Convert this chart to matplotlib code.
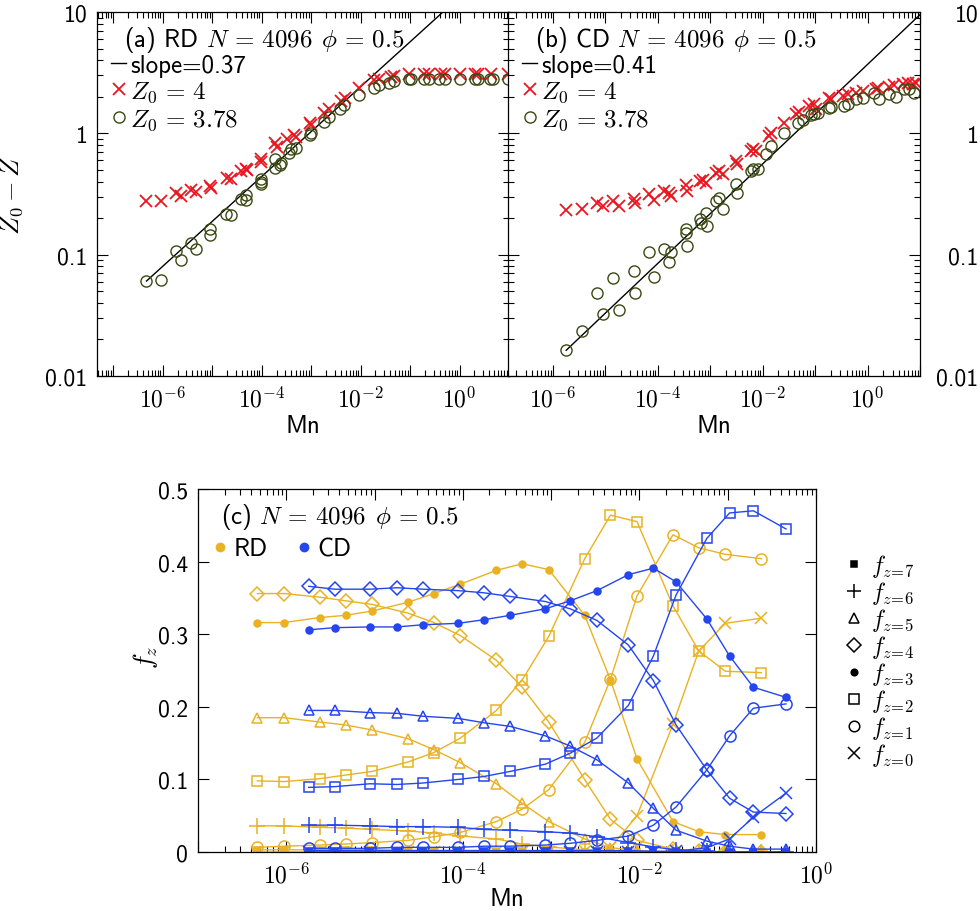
import numpy as np
import matplotlib
matplotlib.use('Agg')
import matplotlib.pyplot as plt
from matplotlib.lines import Line2D
from matplotlib.ticker import FixedLocator, LogLocator, FuncFormatter, NullFormatter

plt.rcParams['font.family'] = ['cmss10', 'DejaVu Sans']
plt.rcParams['mathtext.fontset'] = 'cm'
plt.rcParams['axes.unicode_minus'] = False
plt.rcParams['axes.formatter.use_mathtext'] = True

# ---------------- data: panel (a) RD ----------------
a_x4 = [4.7e-7, 9.4e-7, 1.86e-6, 2.39e-6, 3.75e-6, 4.81e-6, 9.25e-6, 9.55e-6, 1.95e-5, 2.36e-5,
        3.75e-5, 4.74e-5, 5.12e-5, 9.55e-5, 9.84e-5, 1.84e-4, 2.08e-4, 3.31e-4, 4.52e-4, 4.89e-4,
        9.55e-4, 9.84e-4, 1.84e-3, 2.32e-3, 3.99e-3, 4.81e-3, 9.4e-3, 1.89e-2, 2.39e-2, 4.12e-2,
        4.81e-2, 0.0968, 0.195, 0.247, 0.425, 0.497, 1.0, 2.01, 2.35, 4.39, 9.55]
a_y4 = [0.277, 0.277, 0.324, 0.305, 0.341, 0.328, 0.368, 0.357, 0.431, 0.418,
        0.490, 0.511, 0.499, 0.611, 0.584, 0.827, 0.777, 0.893, 0.963, 0.939,
        1.224, 1.178, 1.48, 1.58, 1.85, 1.97, 2.38, 2.73, 2.79, 2.93,
        2.97, 3.06, 3.06, 3.06, 3.06, 3.06, 3.06, 3.06, 3.06, 3.06, 3.06]
a_x378 = [4.7e-7, 9.4e-7, 1.86e-6, 2.39e-6, 3.75e-6, 4.81e-6, 9.25e-6, 9.25e-6, 1.89e-5, 2.36e-5,
          3.75e-5, 4.74e-5, 4.89e-5, 9.55e-5, 9.84e-5, 9.55e-5, 1.84e-4, 1.84e-4, 2.44e-4, 2.36e-4,
          3.6e-4, 3.88e-4, 4.89e-4, 9.84e-4, 9.55e-4, 1.84e-3, 2.32e-3, 3.88e-3, 4.67e-3, 9.4e-3,
          1.89e-2, 2.39e-2, 3.81e-2, 4.81e-2, 0.0968, 0.105, 0.195, 0.247, 0.393, 0.497,
          1.0, 2.01, 2.35, 4.06, 4.74, 9.55]
a_y378 = [0.0607, 0.0618, 0.107, 0.0904, 0.124, 0.112, 0.162, 0.146, 0.215, 0.212,
          0.286, 0.308, 0.280, 0.418, 0.397, 0.380, 0.611, 0.521, 0.573, 0.545,
          0.693, 0.738, 0.762, 1.0, 0.963, 1.25, 1.37, 1.58, 1.70, 2.06,
          2.38, 2.49, 2.62, 2.70, 2.79, 2.79, 2.79, 2.79, 2.79, 2.79,
          2.79, 2.79, 2.79, 2.79, 2.79, 2.79]
a_slope, a_amp = 0.37, 13.3
a_line_x = [4.7e-7, 10.0]

# ---------------- data: panel (b) CD ----------------
b_x4 = [1.79e-6, 3.62e-6, 6.89e-6, 8.95e-6, 1.39e-5, 1.78e-5, 3.44e-5, 3.6e-5, 6.93e-5, 8.64e-5,
        1.34e-4, 1.67e-4, 1.79e-4, 3.47e-4, 3.57e-4, 6.4e-4, 7.19e-4, 8.33e-4, 1.29e-3, 1.5e-3,
        1.73e-3, 3.1e-3, 3.2e-3, 6.0e-3, 6.45e-3, 7.47e-3, 1.34e-2, 1.44e-2, 2.59e-2, 4.32e-2,
        4.99e-2, 7.74e-2, 9.64e-2, 0.104, 0.186, 0.2, 0.334, 0.416, 0.6, 0.803,
        1.44, 1.55, 2.59, 3.22, 4.64, 5.78, 7.2, 8.33]
b_y4 = [0.233, 0.239, 0.265, 0.252, 0.277, 0.252, 0.286, 0.268, 0.314, 0.282,
        0.335, 0.324, 0.305, 0.373, 0.335, 0.405, 0.412, 0.392, 0.474, 0.490,
        0.459, 0.592, 0.555, 0.715, 0.738, 0.715, 0.951, 1.01, 1.21, 1.43,
        1.50, 1.68, 1.73, 1.58, 1.97, 1.91, 2.03, 2.10, 2.16, 2.23,
        2.31, 2.38, 2.42, 2.49, 2.54, 2.58, 2.54, 2.62]
b_x378 = [1.79e-6, 3.62e-6, 6.89e-6, 8.95e-6, 1.39e-5, 1.78e-5, 3.44e-5, 3.6e-5, 6.93e-5, 8.64e-5,
          1.34e-4, 1.67e-4, 1.79e-4, 3.47e-4, 3.47e-4, 3.57e-4, 6.4e-4, 6.8e-4, 8.33e-4, 8.6e-4,
          1.29e-3, 1.5e-3, 1.73e-3, 3.1e-3, 3.2e-3, 6.0e-3, 6.45e-3, 8.0e-3, 1.16e-2, 1.44e-2,
          2.59e-2, 4.64e-2, 5.78e-2, 8.3e-2, 9.64e-2, 0.112, 0.186, 0.2, 0.359, 0.416,
          0.6, 0.803, 1.34, 1.67, 2.59, 3.47, 5.0, 6.2, 7.74]
b_y378 = [0.0163, 0.0235, 0.0486, 0.0322, 0.0646, 0.0348, 0.0733, 0.048, 0.106, 0.0659,
          0.112, 0.087, 0.105, 0.162, 0.152, 0.118, 0.195, 0.181, 0.222, 0.172,
          0.277, 0.295, 0.236, 0.380, 0.324, 0.490, 0.511, 0.511, 0.671, 0.787,
          1.01, 1.22, 1.30, 1.41, 1.43, 1.48, 1.63, 1.66, 1.68, 1.73,
          1.91, 1.97, 2.16, 1.93, 2.10, 2.01, 2.31, 2.31, 2.14]
b_slope, b_amp = 0.41, 3.70
b_line_x = [1.79e-6, 10.0]

# ---------------- data: panel (c) ----------------
rd_mn = [4.7e-7, 9.4e-7, 2.4e-6, 4.7e-6, 9.4e-6, 2.4e-5, 4.7e-5, 9.4e-5, 2.4e-4, 4.7e-4,
         9.4e-4, 2.4e-3, 4.7e-3, 9.4e-3, 2.4e-2, 4.7e-2, 9.4e-2, 2.4e-1]
rd_f = {
    7: [0.003, 0.003, 0.003, 0.003, 0.003, 0.002, 0.002, 0.002, 0.001, 0.001, 0, 0, 0, 0, 0, 0, 0, 0],
    6: [0.036, 0.036, 0.034, 0.033, 0.031, 0.029, 0.026, 0.022, 0.018, 0.011, 0.007, 0.003, 0.001, 0, 0, 0, 0, 0],
    5: [0.185, 0.185, 0.179, 0.175, 0.168, 0.156, 0.141, 0.123, 0.094, 0.067, 0.042, 0.018, 0.006, 0.002, 0, 0, 0, 0],
    4: [0.356, 0.356, 0.351, 0.346, 0.341, 0.329, 0.316, 0.298, 0.264, 0.227, 0.179, 0.0996, 0.045, 0.016, 0.004, 0.001, 0, 0],
    3: [0.316, 0.316, 0.323, 0.326, 0.332, 0.344, 0.356, 0.369, 0.388, 0.397, 0.389, 0.326, 0.237, 0.128, 0.042, 0.028, 0.024, 0.024],
    2: [0.098, 0.097, 0.101, 0.106, 0.111, 0.124, 0.137, 0.157, 0.195, 0.237, 0.297, 0.404, 0.464, 0.455, 0.339, 0.277, 0.249, 0.247],
    1: [0.0064, 0.008, 0.0096, 0.011, 0.013, 0.016, 0.021, 0.027, 0.042, 0.059, 0.086, 0.151, 0.238, 0.353, 0.437, 0.419, 0.410, 0.404],
    0: [0, 0, 0, 0, 0, 0, 0, 0, 0, 0, 0.0005, 0.002, 0.006, 0.050, 0.176, 0.277, 0.315, 0.322],
}
cd_mn = [1.79e-6, 3.52e-6, 8.9e-6, 1.79e-5, 3.52e-5, 8.9e-5, 1.74e-4, 3.44e-4, 8.6e-4, 1.64e-3,
         3.3e-3, 7.5e-3, 1.44e-2, 2.6e-2, 5.8e-2, 0.105, 0.195, 0.457]
cd_f = {
    7: [0.002, 0.002, 0.002, 0.002, 0.002, 0.002, 0.002, 0.002, 0.002, 0.002, 0.002, 0.002, 0.001, 0.001, 0, 0, 0, 0],
    6: [0.037, 0.037, 0.036, 0.035, 0.035, 0.034, 0.031, 0.030, 0.028, 0.026, 0.021, 0.013, 0.007, 0.003, 0.001, 0, 0, 0],
    5: [0.195, 0.195, 0.192, 0.191, 0.187, 0.184, 0.178, 0.173, 0.160, 0.146, 0.127, 0.095, 0.060, 0.030, 0.015, 0.008, 0.004, 0.004],
    4: [0.366, 0.362, 0.362, 0.364, 0.362, 0.360, 0.357, 0.352, 0.345, 0.335, 0.319, 0.285, 0.236, 0.175, 0.113, 0.074, 0.055, 0.053],
    3: [0.306, 0.309, 0.310, 0.310, 0.313, 0.315, 0.320, 0.326, 0.335, 0.346, 0.360, 0.382, 0.391, 0.372, 0.321, 0.270, 0.227, 0.213],
    2: [0.089, 0.090, 0.094, 0.093, 0.095, 0.100, 0.104, 0.111, 0.121, 0.136, 0.157, 0.202, 0.270, 0.354, 0.432, 0.467, 0.470, 0.445],
    1: [0.005, 0.005, 0.005, 0.0064, 0.0064, 0.0064, 0.008, 0.008, 0.0096, 0.012, 0.016, 0.022, 0.037, 0.062, 0.113, 0.160, 0.198, 0.204],
    0: [0, 0, 0, 0, 0, 0, 0, 0, 0, 0, 0, 0, 0, 0.001, 0.006, 0.018, 0.048, 0.081],
}
z_order = [7, 6, 5, 4, 3, 2, 1, 0]
z_labels = [r'$f_{z\!=\!%d}$' % z for z in z_order]

# ---------------- styles ----------------
RED = '#e8161f'
OLIVE = '#3a4812'
GOLD = '#e9b223'
BLUE = '#2445ef'
marker_style = {
    7: dict(marker='s', ms=4, filled=True),
    6: dict(marker='+', ms=11, filled=False),
    5: dict(marker='^', ms=7, filled=False),
    4: dict(marker='D', ms=7, filled=False),
    3: dict(marker='o', ms=5, filled=True),
    2: dict(marker='s', ms=7.5, filled=False),
    1: dict(marker='o', ms=8, filled=False),
    0: dict(marker='x', ms=9, filled=False),
}

W, H = 980, 912
fig = plt.figure(figsize=(W / 100, H / 100), dpi=100)

def fx(px):
    return px / W

def fy(py):
    return 1 - py / H

TICK_FS = 17
TXT_FS = 18

def style_axes(ax):
    ax.tick_params(which='both', direction='in', top=True, right=True, width=0.8)
    ax.tick_params(which='major', length=8, labelsize=TICK_FS, pad=7)
    ax.tick_params(which='minor', length=4)
    for s in ax.spines.values():
        s.set_linewidth(0.9)

def dec_fmt(v, pos):
    e = int(round(np.log10(v)))
    if e % 2 == 0:
        return r'$\mathsf{10^{%d}}$' % e
    return ''

def plain_fmt(v, pos):
    return '%g' % v

def setup_log_panel(ax, xlim):
    ax.set_xscale('log')
    ax.set_yscale('log')
    ax.set_xlim(*xlim)
    ax.set_ylim(0.01, 10)
    ax.xaxis.set_major_locator(LogLocator(base=10, numticks=30))
    ax.xaxis.set_minor_locator(LogLocator(base=10, subs=np.arange(2, 10), numticks=30))
    ax.xaxis.set_major_formatter(FuncFormatter(dec_fmt))
    ax.xaxis.set_minor_formatter(NullFormatter())
    ax.yaxis.set_major_locator(FixedLocator([0.01, 0.1, 1, 10]))
    ax.yaxis.set_minor_locator(LogLocator(base=10, subs=np.arange(2, 10), numticks=30))
    ax.yaxis.set_major_formatter(FuncFormatter(plain_fmt))
    ax.yaxis.set_minor_formatter(NullFormatter())
    style_axes(ax)
    ax.set_xlabel('Mn', fontsize=TXT_FS)
    ax.xaxis.set_label_coords(0.5, -0.104)

top_b, top_t = 377, 13
ax_a = fig.add_axes([fx(97), fy(top_b), fx(509 - 97), (top_b - top_t) / H])
ax_b = fig.add_axes([fx(508), fy(top_b), fx(920 - 508), (top_b - top_t) / H])

panels = [
    (ax_a, (4.7e-8, 10), a_x4, a_y4, a_x378, a_y378, a_slope, a_amp, a_line_x, '(a) RD'),
    (ax_b, (1.39e-7, 10), b_x4, b_y4, b_x378, b_y378, b_slope, b_amp, b_line_x, '(b) CD'),
]
for ax, xlim, x4, y4, x3, y3, sl, amp, lx, tag in panels:
    setup_log_panel(ax, xlim)
    lx = np.array(lx)
    line, = ax.plot(lx, amp * lx ** sl, color='black', lw=1.0, label='slope=%.2f' % sl)
    sc1, = ax.plot(x4, y4, ls='none', marker='x', ms=8.5, mew=1.3, color=RED,
                   label=r'$Z_0\,=\,4$')
    sc2, = ax.plot(x3, y3, ls='none', marker='o', ms=8, mfc='none', mew=1.0, mec=OLIVE,
                   label=r'$Z_0\,=\,3.78$')
    ax.text(0.065, 0.926, tag + r' $N\,=\,4096\;\,\phi\,=\,0.5$', transform=ax.transAxes,
            fontsize=TXT_FS, va='center', ha='left')
    ax.legend(handles=[line, sc1, sc2], loc='upper left', bbox_to_anchor=(0.035, 0.885),
              frameon=False, fontsize=TXT_FS, handlelength=0.6, handletextpad=0.15,
              labelspacing=0.12, borderpad=0, borderaxespad=0)

ax_a.set_ylabel(r'$Z_0 - Z$', fontsize=TXT_FS + 1)
ax_a.yaxis.set_label_coords(-0.175, 0.5)
ax_b.tick_params(axis='y', which='both', labelleft=False)

# phantom third panel, only its tick labels fall inside the figure
ax_c3 = fig.add_axes([fx(988), fy(top_b), fx(412), (top_b - top_t) / H])
ax_c3.set_yscale('log')
ax_c3.set_ylim(0.01, 10)
ax_c3.yaxis.set_major_locator(FixedLocator([0.01, 0.1, 1, 10]))
ax_c3.yaxis.set_minor_formatter(NullFormatter())
ax_c3.yaxis.set_major_formatter(FuncFormatter(plain_fmt))
ax_c3.tick_params(axis='y', labelsize=TICK_FS, pad=7, direction='in')
ax_c3.set_xticks([])

# ---------------- panel (c) ----------------
ax_c = fig.add_axes([fx(198), fy(853), fx(816 - 198), (853 - 490) / H])
ax_c.set_xscale('log')
ax_c.set_xlim(1e-7, 1)
ax_c.set_ylim(0, 0.5)
ax_c.xaxis.set_major_locator(LogLocator(base=10, numticks=30))
ax_c.xaxis.set_minor_locator(LogLocator(base=10, subs=np.arange(2, 10), numticks=30))
ax_c.xaxis.set_major_formatter(FuncFormatter(dec_fmt))
ax_c.xaxis.set_minor_formatter(NullFormatter())
ax_c.yaxis.set_major_locator(FixedLocator([0, 0.1, 0.2, 0.3, 0.4, 0.5]))
ax_c.yaxis.set_major_formatter(FuncFormatter(plain_fmt))
style_axes(ax_c)

for xs, fdict, col in [(rd_mn, rd_f, GOLD), (cd_mn, cd_f, BLUE)]:
    for z in z_order:
        st = marker_style[z]
        ax_c.plot(xs, fdict[z], color=col, lw=1.0, marker=st['marker'], ms=st['ms'],
                  mfc=col if st['filled'] else 'none', mec=col, mew=1.1)

ax_c.text(0.037, 0.926, r'(c) $N\,=\,4096\;\,\phi\,=\,0.5$', transform=ax_c.transAxes,
          fontsize=TXT_FS, va='center', ha='left')
rd_h = Line2D([], [], ls='none', marker='o', ms=6, color=GOLD)
cd_h = Line2D([], [], ls='none', marker='o', ms=6, color=BLUE)
leg1 = ax_c.legend([rd_h, cd_h], ['RD', 'CD'], loc='center left', bbox_to_anchor=(0.025, 0.835),
                   ncol=2, frameon=False, fontsize=TXT_FS, handlelength=0.5, handletextpad=0.3,
                   columnspacing=1.2, borderpad=0, borderaxespad=0)
ax_c.add_artist(leg1)

z_handles = []
for z in z_order:
    st = marker_style[z]
    z_handles.append(Line2D([], [], ls='none', marker=st['marker'], ms=st['ms'] * 0.95,
                            color='black', mfc='black' if st['filled'] else 'none', mew=1.1))
ax_c.legend(z_handles, z_labels, loc='center left', bbox_to_anchor=(1.042, 0.529),
            frameon=False, fontsize=17, handlelength=1.0, handletextpad=0.25,
            labelspacing=0.0, borderpad=0, borderaxespad=0)

ax_c.set_xlabel('Mn', fontsize=TXT_FS)
ax_c.xaxis.set_label_coords(0.5, -0.097)
ax_c.set_ylabel(r'$f_z$', fontsize=TXT_FS + 1)
ax_c.yaxis.set_label_coords(-0.061, 0.54)

fig.savefig('out.png', dpi=100)
